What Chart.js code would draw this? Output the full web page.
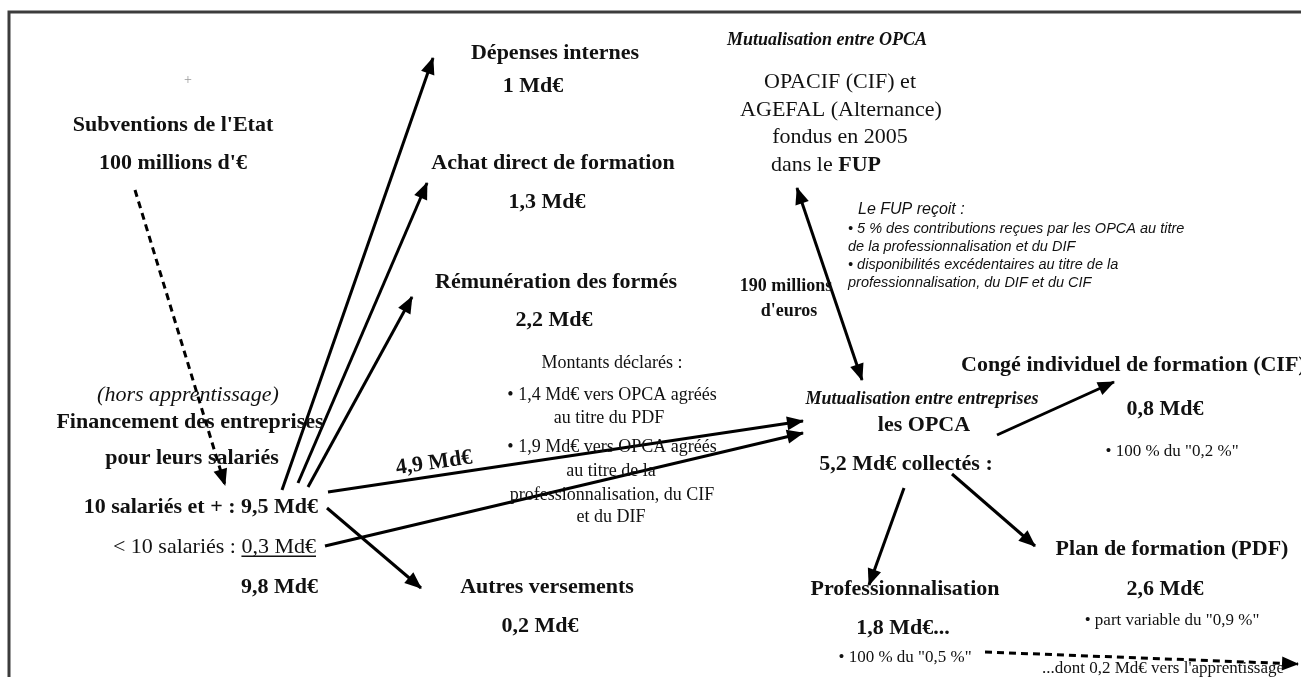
<!DOCTYPE html>
<html lang="fr">
<head>
<meta charset="utf-8">
<title>Financement de la formation continue</title>
<script src="https://cdn.jsdelivr.net/npm/chart.js@4.4.1/dist/chart.umd.min.js"></script>
<style>
  html, body { margin: 0; padding: 0; background: #fff; }
  #wrap { width: 1301px; height: 677px; }
</style>
</head>
<body>
<div id="wrap"><canvas id="flow"></canvas></div>
<script>
// Amounts (Md€ unless noted)
const sourceLabels = ['10 salariés et + : ', '< 10 salariés : '];
const sourceValues = [9.5, 0.3];
const sourceTotal = 9.8;
const useLabels = ['Dépenses internes', 'Achat direct de formation', 'Rémunération des formés', 'Autres versements'];
const useValues = [1, 1.3, 2.2, 0.2];
const declaredValues = [1.4, 1.9];
const toOpca = 4.9;
const opcaCollected = 5.2;
const opcaLabels = ['Congé individuel de formation (CIF)', 'Plan de formation (PDF)', 'Professionnalisation'];
const opcaValues = [0.8, 2.6, 1.8];
const opcaNotes = ['• 100 % du "0,2 %"', '• part variable du "0,9 %"', '• 100 % du "0,5 %"'];
const apprentissage = 0.2;
const fupMillions = 190;
const stateMillions = 100;
const fupNotes = [
    '• 5 % des contributions reçues par les OPCA au titre',
    'de la professionnalisation et du DIF',
    '• disponibilités excédentaires au titre de la',
    'professionnalisation, du DIF et du CIF'
];

const SERIF = '"Liberation Serif", "Times New Roman", serif';
const SANS = '"Liberation Sans", Arial, sans-serif';

function md(v, suffix) {
    return String(v).replace('.', ',') + ' Md€' + (suffix || '');
}

// Layout of the arrows (diagram units = pixels of the 1301x677 sheet)
const arrows = [
    { from: [135, 190], to: [225, 485], dash: true },            // subventions
    { from: [282, 490], to: [433, 58] },                          // dépenses internes
    { from: [298, 483], to: [427, 183] },                         // achat direct
    { from: [308, 487], to: [412, 297] },                         // rémunération
    { from: [328, 492], to: [803, 421] },                         // 4,9 Md€ vers OPCA
    { from: [325, 546], to: [803, 433] },                         // < 10 salariés vers OPCA
    { from: [327, 508], to: [421, 588] },                         // autres versements
    { from: [797, 188], to: [862, 380], both: true },             // FUP <-> OPCA
    { from: [997, 435], to: [1114, 382] },                        // CIF
    { from: [952, 474], to: [1035, 546] },                        // PDF
    { from: [904, 488], to: [869, 585] },                         // professionnalisation
    { from: [985, 652], to: [1298, 664], dash: true }             // apprentissage
];

// Text runs: b = bold, i = italic, u = underline
const B = t => ({ t, b: true });
const R = t => ({ t });
const texts = [
    { x: 188, y: 80, size: 14, color: '#999', runs: [R('+')] },
    { x: 173, y: 125, size: 22, runs: [B("Subventions de l'Etat")] },
    { x: 173, y: 163, size: 22, runs: [B(stateMillions + " millions d'€")] },
    { x: 188, y: 395, size: 22, runs: [{ t: '(hors apprentissage)', i: true }] },
    { x: 190, y: 422, size: 22, runs: [B('Financement des entreprises')] },
    { x: 192, y: 458, size: 22, runs: [B('pour leurs salariés')] },
    { x: 318, y: 507, size: 22, align: 'right', runs: [B(sourceLabels[0] + md(sourceValues[0]))] },
    { x: 316, y: 547, size: 22, align: 'right', runs: [R(sourceLabels[1]), { t: md(sourceValues[1]), u: true }] },
    { x: 318, y: 587, size: 22, align: 'right', runs: [B(md(sourceTotal))] },

    { x: 555, y: 53, size: 22, runs: [B(useLabels[0])] },
    { x: 533, y: 86, size: 22, runs: [B(md(useValues[0]))] },
    { x: 553, y: 163, size: 22, runs: [B(useLabels[1])] },
    { x: 547, y: 202, size: 22, runs: [B(md(useValues[1]))] },
    { x: 556, y: 282, size: 22, runs: [B(useLabels[2])] },
    { x: 554, y: 320, size: 22, runs: [B(md(useValues[2]))] },
    { x: 547, y: 587, size: 22, runs: [B(useLabels[3])] },
    { x: 540, y: 626, size: 22, runs: [B(md(useValues[3]))] },

    { x: 612, y: 363, size: 18, runs: [R('Montants déclarés :')] },
    { x: 612, y: 395, size: 18, runs: [R('• ' + md(declaredValues[0], ' vers OPCA agréés'))] },
    { x: 609, y: 418, size: 18, runs: [R('au titre du PDF')] },
    { x: 612, y: 447, size: 18, runs: [R('• ' + md(declaredValues[1], ' vers OPCA agréés'))] },
    { x: 611, y: 471, size: 18, runs: [R('au titre de la')] },
    { x: 612, y: 495, size: 18, runs: [R('professionnalisation, du CIF')] },
    { x: 611, y: 517, size: 18, runs: [R('et du DIF')] },
    { x: 434, y: 463, size: 22, rot: -8, runs: [B(md(toOpca))] },

    { x: 827, y: 40, size: 18, runs: [{ t: 'Mutualisation entre OPCA', b: true, i: true }] },
    { x: 840, y: 82, size: 22, runs: [R('OPACIF (CIF) et')] },
    { x: 841, y: 110, size: 22, runs: [R('AGEFAL (Alternance)')] },
    { x: 840, y: 137, size: 22, runs: [R('fondus en 2005')] },
    { x: 826, y: 165, size: 22, runs: [R('dans le '), B('FUP')] },
    { x: 858, y: 210, size: 16, align: 'left', font: SANS, runs: [{ t: 'Le FUP reçoit :', i: true }] },
    { x: 848, y: 229, size: 14.5, align: 'left', font: SANS, runs: [{ t: fupNotes[0], i: true }] },
    { x: 848, y: 247, size: 14.5, align: 'left', font: SANS, runs: [{ t: fupNotes[1], i: true }] },
    { x: 848, y: 265, size: 14.5, align: 'left', font: SANS, runs: [{ t: fupNotes[2], i: true }] },
    { x: 848, y: 283, size: 14.5, align: 'left', font: SANS, runs: [{ t: fupNotes[3], i: true }] },
    { x: 786, y: 286, size: 18, runs: [B(fupMillions + ' millions')] },
    { x: 789, y: 311, size: 18, runs: [B("d'euros")] },

    { x: 922, y: 399, size: 18, runs: [{ t: 'Mutualisation entre entreprises', b: true, i: true }] },
    { x: 924, y: 425, size: 22, runs: [B('les OPCA')] },
    { x: 906, y: 464, size: 22, runs: [B(md(opcaCollected, ' collectés :'))] },
    { x: 961, y: 365, size: 22, align: 'left', runs: [B(opcaLabels[0])] },
    { x: 1165, y: 409, size: 22, runs: [B(md(opcaValues[0]))] },
    { x: 1172, y: 452, size: 17, runs: [R(opcaNotes[0])] },
    { x: 1172, y: 549, size: 22, runs: [B(opcaLabels[1])] },
    { x: 1165, y: 589, size: 22, runs: [B(md(opcaValues[1]))] },
    { x: 1172, y: 621, size: 17, runs: [R(opcaNotes[1])] },
    { x: 905, y: 589, size: 22, runs: [B(opcaLabels[2])] },
    { x: 903, y: 628, size: 22, runs: [B(md(opcaValues[2], '...'))] },
    { x: 905, y: 658, size: 17, runs: [R(opcaNotes[2])] },
    { x: 1042, y: 669, size: 17, align: 'left', runs: [R('...dont ' + md(apprentissage, " vers l'apprentissage"))] }
];

function drawHead(ctx, from, to) {
    const ang = Math.atan2(to.y - from.y, to.x - from.x);
    ctx.save();
    ctx.translate(to.x, to.y);
    ctx.rotate(ang);
    ctx.beginPath();
    ctx.moveTo(1, 0);
    ctx.lineTo(-16, -7);
    ctx.lineTo(-16, 7);
    ctx.closePath();
    ctx.fillStyle = '#000';
    ctx.fill();
    ctx.restore();
}

const arrowHeads = {
    id: 'arrowHeads',
    afterDatasetsDraw(chart) {
        const ctx = chart.ctx;
        chart.data.datasets.forEach((ds, i) => {
            if (!ds.heads) return;
            const pts = chart.getDatasetMeta(i).data;
            const a = pts[0], b = pts[pts.length - 1];
            drawHead(ctx, a, b);
            if (ds.heads === 'both') drawHead(ctx, b, a);
        });
    }
};

const diagramText = {
    id: 'diagramText',
    afterDraw(chart) {
        const ctx = chart.ctx;
        const sx = chart.scales.x, sy = chart.scales.y;
        texts.forEach(item => {
            const family = item.font || SERIF;
            const fontOf = r => (r.i ? 'italic ' : '') + (r.b ? 'bold ' : '') + item.size + 'px ' + family;
            ctx.save();
            ctx.fillStyle = item.color || '#111';
            ctx.strokeStyle = item.color || '#111';
            ctx.textBaseline = 'middle';
            ctx.textAlign = 'left';
            let total = 0;
            const widths = item.runs.map(r => {
                ctx.font = fontOf(r);
                const w = ctx.measureText(r.t).width;
                total += w;
                return w;
            });
            ctx.translate(sx.getPixelForValue(item.x), sy.getPixelForValue(item.y));
            if (item.rot) ctx.rotate(item.rot * Math.PI / 180);
            let x = item.align === 'left' ? 0 : item.align === 'right' ? -total : -total / 2;
            item.runs.forEach((r, k) => {
                ctx.font = fontOf(r);
                ctx.fillText(r.t, x, 0);
                if (r.u) {
                    ctx.lineWidth = 1.5;
                    ctx.beginPath();
                    ctx.moveTo(x, item.size * 0.42);
                    ctx.lineTo(x + widths[k], item.size * 0.42);
                    ctx.stroke();
                }
                x += widths[k];
            });
            ctx.restore();
        });
    }
};

const datasets = [{
    // sheet frame, cut by the page edges
    data: [{ x: 9, y: 677 }, { x: 9, y: 12 }, { x: 1301, y: 12 }],
    borderColor: '#3c3c3c',
    borderWidth: 3
}].concat(arrows.map(a => ({
    data: [{ x: a.from[0], y: a.from[1] }, { x: a.to[0], y: a.to[1] }],
    borderColor: '#000',
    borderWidth: 3,
    borderDash: a.dash ? [7, 5] : [],
    heads: a.both ? 'both' : 'end'
})));

document.addEventListener('DOMContentLoaded', function() {
    new Chart(document.getElementById('flow'), {
        type: 'scatter',
        data: { datasets: datasets.map(d => Object.assign({ showLine: true, pointRadius: 0, fill: false, tension: 0 }, d)) },
        options: {
            responsive: true,
            maintainAspectRatio: false,
            animation: false,
            layout: { padding: 0 },
            scales: {
                x: { type: 'linear', min: 0, max: 1301, display: false },
                y: { type: 'linear', min: 0, max: 677, reverse: true, display: false }
            },
            plugins: { legend: { display: false }, tooltip: { enabled: false } },
            events: []
        },
        plugins: [arrowHeads, diagramText]
    });
});
</script>
</body>
</html>
